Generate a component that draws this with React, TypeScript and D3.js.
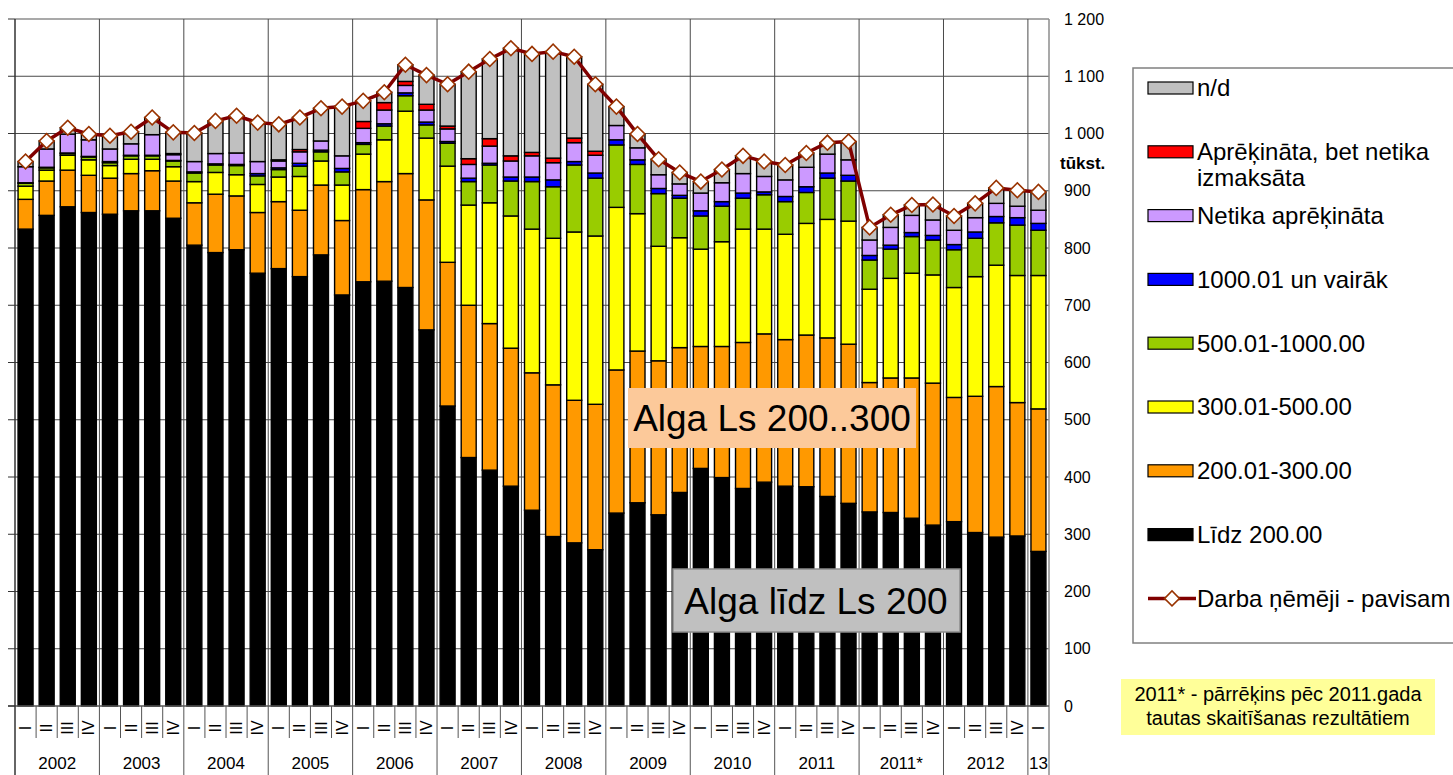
import React, { useEffect, useRef } from 'react';
import * as d3 from 'd3';

// years on the x axis and how many quarters each one has
const years = ['2002', '2003', '2004', '2005', '2006', '2007', '2008', '2009', '2010', '2011', '2011*', '2012', '13'];
const quartersPerYear = [4, 4, 4, 4, 4, 4, 4, 4, 4, 4, 4, 4, 1];
const quarterNames = ['I', 'II', 'III', 'IV'];

// employees by monthly wage group, thousands
const lidz200 = [833, 857, 872, 862, 859, 865, 865, 852, 805, 792, 797, 756, 764, 750, 788, 718, 741, 742, 731, 657, 524, 434, 412, 384, 342, 296, 285, 273, 337, 355, 334, 373, 415, 399, 380, 391, 384, 383, 366, 354, 339, 338, 328, 316, 322, 303, 295, 297, 270];
const r200_300 = [52, 60, 64, 65, 63, 65, 70, 65, 74, 102, 94, 106, 117, 116, 122, 130, 161, 174, 199, 227, 251, 266, 256, 241, 240, 265, 249, 254, 250, 265, 269, 253, 213, 229, 255, 259, 256, 265, 277, 278, 226, 235, 245, 248, 217, 238, 263, 233, 249];
const r300_500 = [23, 19, 26, 27, 22, 25, 20, 25, 37, 38, 37, 49, 43, 59, 42, 62, 62, 73, 109, 108, 168, 175, 211, 231, 251, 256, 294, 294, 284, 240, 200, 192, 170, 183, 198, 183, 184, 195, 207, 215, 163, 174, 183, 189, 192, 209, 212, 222, 233];
const r500_1000 = [5, 4, 3, 5, 5, 6, 6, 10, 15, 13, 16, 15, 13, 18, 16, 23, 17, 24, 27, 23, 40, 41, 66, 61, 83, 90, 117, 101, 109, 86, 92, 69, 58, 62, 54, 60, 57, 54, 72, 70, 51, 51, 64, 61, 66, 67, 74, 88, 79];
const r1000plus = [1, 1, 1, 1, 2, 1, 1, 1, 2, 2, 2, 4, 3, 5, 3, 6, 3, 4, 5, 5, 3, 6, 3, 7, 8, 12, 6, 9, 9, 8, 9, 5, 9, 8, 9, 5, 9, 10, 9, 10, 8, 7, 7, 8, 9, 11, 11, 13, 12];
const netikaApr = [28, 32, 33, 29, 22, 20, 36, 10, 18, 18, 20, 21, 12, 20, 16, 22, 25, 24, 13, 21, 22, 24, 30, 28, 37, 30, 33, 31, 25, 21, 24, 20, 31, 33, 34, 27, 29, 34, 33, 27, 27, 31, 30, 27, 25, 25, 23, 20, 23];
const neizmaksata = [0, 0, 0, 0, 0, 0, 0, 2, 0, 0, 0, 0, 2, 4, 0, 0, 12, 13, 7, 10, 5, 10, 13, 9, 6, 8, 8, 7, 0, 0, 0, 0, 0, 0, 0, 0, 0, 0, 0, 0, 0, 0, 0, 0, 0, 0, 0, 0, 0];
const nd = [9, 14, 11, 10, 23, 21, 30, 37, 50, 57, 65, 68, 62, 56, 57, 86, 36, 18, 29, 51, 73, 152, 139, 188, 172, 186, 142, 117, 33, 24, 27, 20, 20, 23, 31, 26, 26, 25, 20, 32, 22, 22, 18, 27, 25, 25, 27, 28, 32];
const total = [951, 987, 1010, 999, 996, 1003, 1028, 1002, 1001, 1022, 1031, 1019, 1016, 1028, 1044, 1047, 1057, 1072, 1120, 1102, 1086, 1108, 1130, 1149, 1139, 1143, 1134, 1086, 1047, 999, 955, 932, 916, 937, 961, 951, 945, 966, 984, 986, 836, 858, 875, 876, 856, 878, 905, 901, 898];

const yTicks = [0, 100, 200, 300, 400, 500, 600, 700, 800, 900, 1000, 1100, 1200];

const series = [
  { key: 'lidz200', values: lidz200, color: '#000000', label: ['Līdz 200.00'] },
  { key: 'r200_300', values: r200_300, color: '#ff9900', label: ['200.01-300.00'] },
  { key: 'r300_500', values: r300_500, color: '#ffff00', label: ['300.01-500.00'] },
  { key: 'r500_1000', values: r500_1000, color: '#99cc00', label: ['500.01-1000.00'] },
  { key: 'r1000plus', values: r1000plus, color: '#0000ff', label: ['1000.01 un vairāk'] },
  { key: 'netikaApr', values: netikaApr, color: '#cc99ff', label: ['Netika aprēķināta'] },
  { key: 'neizmaksata', values: neizmaksata, color: '#ff0000', label: ['Aprēķināta, bet netika', 'izmaksāta'] },
  { key: 'nd', values: nd, color: '#c0c0c0', label: ['n/d'] },
];

const App = () => {
  const svgRef = useRef(null);

  useEffect(() => {
    const svg = d3.select(svgRef.current);
    svg.selectAll('*').remove();

    const font = '"Liberation Sans", Arial, sans-serif';
    const left = 15, right = 1049, top = 19, bottom = 706;

    // one entry per quarter
    const periods = [];
    years.forEach((yr, yi) => {
      for (let q = 0; q < quartersPerYear[yi]; q++) periods.push({ year: yr, q });
    });
    const n = periods.length;

    const x = d3.scaleBand()
      .domain(d3.range(n))
      .range([left, right])
      .paddingInner(0.29)
      .paddingOuter(0.145);
    const step = x.step();
    const edge = (i) => left + i * step;

    const y = d3.scaleLinear().domain([0, 1200]).range([bottom, top]);

    const rows = periods.map((p, i) => {
      const r = { i };
      series.forEach(s => { r[s.key] = s.values[i]; });
      return r;
    });
    const stacked = d3.stack().keys(series.map(s => s.key))(rows);

    // grid
    const grid = svg.append('g');
    yTicks.filter(v => v > 0 && v < 1200).forEach(v => {
      grid.append('line')
        .attr('x1', left).attr('x2', right)
        .attr('y1', y(v)).attr('y2', y(v))
        .attr('stroke', '#4a4a4a').attr('stroke-width', 1);
    });
    // frame top
    grid.append('line').attr('x1', left).attr('x2', right).attr('y1', top).attr('y2', top)
      .attr('stroke', '#8c8c8c').attr('stroke-width', 1.5);

    const yearEdges = d3.cumsum(quartersPerYear);
    yearEdges.slice(0, -1).forEach(k => {
      grid.append('line')
        .attr('x1', edge(k)).attr('x2', edge(k))
        .attr('y1', top).attr('y2', bottom)
        .attr('stroke', '#4a4a4a').attr('stroke-width', 1);
    });

    // bars
    const layers = svg.append('g');
    stacked.forEach((layer, li) => {
      layers.append('g')
        .selectAll('rect')
        .data(layer.filter(d => d[1] - d[0] > 0))
        .enter()
        .append('rect')
        .attr('x', d => x(d.data.i))
        .attr('width', x.bandwidth())
        .attr('y', d => y(d[1]))
        .attr('height', d => y(d[0]) - y(d[1]))
        .attr('fill', series[li].color)
        .attr('stroke', '#000')
        .attr('stroke-width', 1.4);
    });

    // right frame after bars
    svg.append('line').attr('x1', right).attr('x2', right).attr('y1', top).attr('y2', 775)
      .attr('stroke', '#8c8c8c').attr('stroke-width', 1.5);

    // axis lines
    svg.append('line').attr('x1', 8).attr('x2', right).attr('y1', bottom).attr('y2', bottom)
      .attr('stroke', '#555').attr('stroke-width', 1.5);
    svg.append('line').attr('x1', left).attr('x2', left).attr('y1', top).attr('y2', 775)
      .attr('stroke', '#333').attr('stroke-width', 1.5);
    yTicks.forEach(v => {
      svg.append('line').attr('x1', 8).attr('x2', left).attr('y1', y(v)).attr('y2', y(v))
        .attr('stroke', '#333').attr('stroke-width', 1);
    });

    // quarter separators and year separators under the axis
    d3.range(1, n).forEach(k => {
      const isYear = yearEdges.includes(k);
      svg.append('line')
        .attr('x1', edge(k)).attr('x2', edge(k))
        .attr('y1', bottom).attr('y2', isYear ? 775 : 738)
        .attr('stroke', '#555').attr('stroke-width', 1);
    });

    // quarter labels (roman numerals, rotated)
    periods.forEach((p, i) => {
      const cx = x(i) + x.bandwidth() / 2;
      svg.append('text')
        .attr('transform', `translate(${cx},728) rotate(-90)`)
        .attr('text-anchor', 'middle')
        .attr('dy', '0.35em')
        .style('font-family', font)
        .style('font-size', '16px')
        .text(quarterNames[p.q]);
    });

    // year labels
    let start = 0;
    years.forEach((yr, yi) => {
      const end = start + quartersPerYear[yi];
      svg.append('text')
        .attr('x', (edge(start) + edge(end)) / 2)
        .attr('y', 769)
        .attr('text-anchor', 'middle')
        .style('font-family', font)
        .style('font-size', '17px')
        .text(yr);
      start = end;
    });

    // y tick labels on the right
    yTicks.forEach(v => {
      svg.append('text')
        .attr('x', 1064)
        .attr('y', y(v))
        .attr('dy', '0.35em')
        .style('font-family', font)
        .style('font-size', '16px')
        .text(d3.format(',')(v).replace(',', ' '));
    });
    svg.append('text')
      .attr('x', 1060).attr('y', 163).attr('dy', '0.35em')
      .style('font-family', font).style('font-size', '17px').style('font-weight', 'bold')
      .text('tūkst.');

    // total line
    const line = d3.line()
      .x((d, i) => x(i) + x.bandwidth() / 2)
      .y(d => y(d));
    svg.append('path')
      .datum(total)
      .attr('d', line)
      .attr('fill', 'none')
      .attr('stroke', '#800000')
      .attr('stroke-width', 3.5)
      .attr('stroke-linejoin', 'round');

    const diamond = d3.symbol().type(d3.symbolSquare).size(110);
    svg.append('g')
      .selectAll('path')
      .data(total)
      .enter()
      .append('path')
      .attr('d', diamond)
      .attr('transform', (d, i) => `translate(${x(i) + x.bandwidth() / 2},${y(d)}) rotate(45)`)
      .attr('fill', '#fff')
      .attr('stroke', '#993300')
      .attr('stroke-width', 1.6);

    // annotations
    svg.append('rect').attr('x', 628).attr('y', 388).attr('width', 288).attr('height', 60)
      .attr('fill', '#fcc99a');
    svg.append('text').attr('x', 772).attr('y', 418).attr('dy', '0.35em')
      .attr('text-anchor', 'middle')
      .style('font-family', font).style('font-size', '37px')
      .text('Alga Ls 200..300');

    svg.append('rect').attr('x', 673).attr('y', 569).attr('width', 287).attr('height', 63)
      .attr('fill', '#c0c0c0').attr('stroke', '#8c8c8c').attr('stroke-width', 1.5);
    svg.append('text').attr('x', 816).attr('y', 601).attr('dy', '0.35em')
      .attr('text-anchor', 'middle')
      .style('font-family', font).style('font-size', '37px')
      .text('Alga līdz Ls 200');

    // legend
    const lg = svg.append('g');
    lg.append('rect').attr('x', 1133).attr('y', 68).attr('width', 340).attr('height', 575)
      .attr('fill', '#fff').attr('stroke', '#808080').attr('stroke-width', 1.5);
    const legendOrder = series.slice().reverse();
    legendOrder.forEach((s, k) => {
      const cy = 88 + k * 63.8;
      lg.append('rect').attr('x', 1148).attr('y', cy - 6).attr('width', 45).attr('height', 12)
        .attr('fill', s.color).attr('stroke', '#000').attr('stroke-width', 1.2);
      s.label.forEach((t, j) => {
        lg.append('text').attr('x', 1197).attr('y', cy + j * 26).attr('dy', '0.35em')
          .style('font-family', font).style('font-size', '24px')
          .text(t);
      });
    });
    const ly = 88 + legendOrder.length * 63.8;
    lg.append('line').attr('x1', 1148).attr('x2', 1196).attr('y1', ly).attr('y2', ly)
      .attr('stroke', '#800000').attr('stroke-width', 3.5);
    lg.append('path').attr('d', diamond)
      .attr('transform', `translate(1172,${ly}) rotate(45)`)
      .attr('fill', '#fff').attr('stroke', '#993300').attr('stroke-width', 1.6);
    lg.append('text').attr('x', 1197).attr('y', ly).attr('dy', '0.35em')
      .style('font-family', font).style('font-size', '24px')
      .text('Darba ņēmēji - pavisam');

    // note box
    svg.append('rect').attr('x', 1121).attr('y', 679).attr('width', 314).attr('height', 56)
      .attr('fill', '#ffff99');
    ['2011* - pārrēķins pēc 2011.gada', 'tautas skaitīšanas rezultātiem'].forEach((t, j) => {
      svg.append('text').attr('x', 1278).attr('y', 694 + j * 24).attr('dy', '0.35em')
        .attr('text-anchor', 'middle')
        .style('font-family', font).style('font-size', '20px')
        .text(t);
    });
  }, []);

  return (
    <svg
      ref={svgRef}
      width={1453}
      height={775}
      style={{ position: 'absolute', left: 0, top: 0, background: '#fff' }}
    />
  );
};

export default App;
